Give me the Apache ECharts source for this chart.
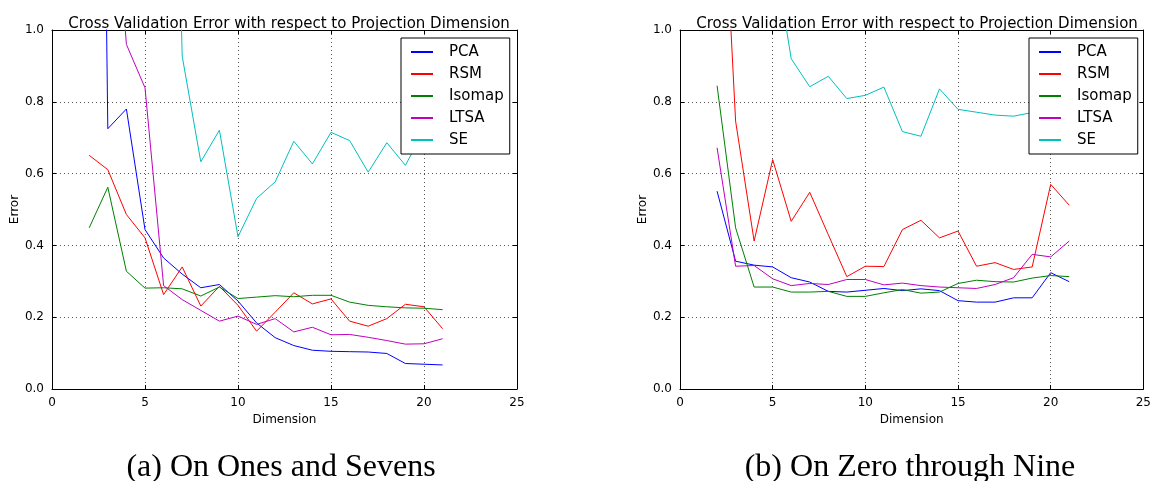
<!DOCTYPE html>
<html>
<head>
<meta charset="utf-8">
<script src="https://cdn.jsdelivr.net/npm/echarts@6/dist/echarts.min.js"></script>
<style>
	body { margin: 0; background: #fff; }
	#main { width: 1154px; height: 481px; }
</style>
</head>
<body>
<div id="main"></div>
<script>
// 维度
var dims = [2, 3, 4, 5, 6, 7, 8, 9, 10, 11, 12, 13, 14, 15, 16, 17, 18, 19, 20, 21];
var names = ['PCA', 'RSM', 'Isomap', 'LTSA', 'SE'];
var colors = ['#0000ff', '#ff0000', '#008000', '#bf00bf', '#00bfbf'];
var xTicks = [0, 5, 10, 15, 20, 25];
var yTicks = [0, 0.2, 0.4, 0.6, 0.8, 1.0];

// (a) Ones and Sevens
var pcaA = [5.0, 0.725, 0.78, 0.444, 0.365, 0.32, 0.282, 0.291, 0.245, 0.184, 0.143, 0.121, 0.108, 0.105, 0.104, 0.103, 0.099, 0.071, 0.069, 0.067];
var rsmA = [0.651, 0.611, 0.486, 0.421, 0.263, 0.340, 0.231, 0.286, 0.233, 0.161, 0.214, 0.268, 0.237, 0.251, 0.189, 0.175, 0.196, 0.236, 0.229, 0.168];
var isoA = [0.449, 0.562, 0.328, 0.281, 0.282, 0.279, 0.259, 0.284, 0.252, 0.256, 0.260, 0.257, 0.261, 0.261, 0.242, 0.233, 0.229, 0.226, 0.225, 0.221];
var ltsaA = [2.0, 1.63, 0.96, 0.839, 0.288, 0.249, 0.219, 0.189, 0.203, 0.180, 0.196, 0.159, 0.172, 0.151, 0.152, 0.144, 0.135, 0.125, 0.126, 0.140];
var seA = [2.5, 2.5, 2.5, 2.8, 3.0, 0.927, 0.633, 0.721, 0.424, 0.531, 0.577, 0.690, 0.627, 0.715, 0.692, 0.604, 0.686, 0.623, 0.72, 0.662];

// (b) Zero through Nine
var pcaB = [0.551, 0.356, 0.345, 0.340, 0.310, 0.298, 0.272, 0.270, 0.275, 0.280, 0.274, 0.279, 0.274, 0.246, 0.242, 0.242, 0.254, 0.254, 0.324, 0.299];
var rsmB = [1.76, 0.746, 0.412, 0.639, 0.467, 0.548, 0.430, 0.313, 0.342, 0.341, 0.444, 0.470, 0.421, 0.440, 0.342, 0.352, 0.333, 0.340, 0.570, 0.512];
var isoB = [0.845, 0.449, 0.284, 0.284, 0.270, 0.270, 0.272, 0.258, 0.258, 0.268, 0.277, 0.267, 0.270, 0.294, 0.303, 0.299, 0.298, 0.309, 0.316, 0.313];
var ltsaB = [0.672, 0.342, 0.344, 0.307, 0.288, 0.294, 0.291, 0.305, 0.305, 0.290, 0.295, 0.288, 0.284, 0.282, 0.280, 0.291, 0.310, 0.375, 0.368, 0.412];
var seB = [1.6, 1.5, 1.4, 1.24, 0.920, 0.842, 0.871, 0.809, 0.818, 0.841, 0.717, 0.704, 0.836, 0.779, 0.771, 0.763, 0.760, 0.77, 0.78, 0.80];

var setsA = [pcaA, rsmA, isoA, ltsaA, seA];
var setsB = [pcaB, rsmB, isoB, ltsaB, seB];

var titleText = 'Cross Validation Error with respect to Projection Dimension';
var font = 'DejaVu Sans';

function pairs(vals) {
	return dims.map(function (d, i) { return [d, vals[i]]; });
}

function makeXAxis(g, pos) {
	var main = pos === 'bottom';
	return {
		type: 'value', gridIndex: g, position: pos,
		min: xTicks[0], max: xTicks[xTicks.length - 1], interval: 5,
		name: main ? 'Dimension' : '', nameLocation: 'middle', nameGap: 22,
		nameTextStyle: { color: '#000', fontFamily: font, fontSize: 12 },
		axisLine: { show: true, onZero: false, lineStyle: { color: '#000', width: 1 } },
		axisTick: { show: true, inside: true, length: 4, lineStyle: { color: '#000' } },
		axisLabel: { show: main, color: '#000', fontFamily: font, fontSize: 12, margin: 8 },
		splitLine: { show: main, lineStyle: { color: '#555', type: [1, 3], width: 1 } }
	};
}

function makeYAxis(g, pos) {
	var main = pos === 'left';
	return {
		type: 'value', gridIndex: g, position: pos,
		min: yTicks[0], max: yTicks[yTicks.length - 1], interval: 0.2,
		name: main ? 'Error' : '', nameLocation: 'middle', nameGap: 28, nameRotate: 90,
		nameTextStyle: { color: '#000', fontFamily: font, fontSize: 12 },
		axisLine: { show: true, onZero: false, lineStyle: { color: '#000', width: 1 } },
		axisTick: { show: true, inside: true, length: 4, lineStyle: { color: '#000' } },
		axisLabel: {
			show: main, color: '#000', fontFamily: font, fontSize: 12, margin: 8,
			formatter: function (v) { return v.toFixed(1); }
		},
		splitLine: { show: main, lineStyle: { color: '#555', type: [1, 3], width: 1 } }
	};
}

function makeSeries(sets, g) {
	return sets.map(function (vals, i) {
		return {
			name: names[i], type: 'line', xAxisIndex: g * 2, yAxisIndex: g * 2,
			data: pairs(vals), showSymbol: false, symbol: 'none', clip: true,
			lineStyle: { color: colors[i], width: 1 }, itemStyle: { color: colors[i] },
			animation: false
		};
	});
}

function makeLegend(left) {
	return {
		data: names, orient: 'vertical', left: left, top: 38,
		backgroundColor: '#fff', borderColor: '#000', borderWidth: 1,
		padding: [6, 6, 6, 10], itemGap: 6, itemWidth: 22, itemHeight: 2, icon: 'rect',
		textStyle: { color: '#000', fontFamily: font, fontSize: 15, lineHeight: 16, padding: [0, 0, 0, 11] },
		selectedMode: false, z: 10
	};
}

var myChart = echarts.init(document.getElementById('main'));
var option = {
	backgroundColor: '#fff',
	animation: false,
	color: colors,
	title: [
		{ text: titleText, left: 284, top: 12, textAlign: 'center', textStyle: { color: '#000', fontFamily: font, fontSize: 15, fontWeight: 'normal' } },
		{ text: titleText, left: 912, top: 12, textAlign: 'center', textStyle: { color: '#000', fontFamily: font, fontSize: 15, fontWeight: 'normal' } },
		{ text: '(a) On Ones and Sevens', left: 276, top: 447, textAlign: 'center', textStyle: { color: '#000', fontFamily: 'Liberation Serif', fontSize: 32, fontWeight: 'normal' } },
		{ text: '(b) On Zero through Nine', left: 905, top: 447, textAlign: 'center', textStyle: { color: '#000', fontFamily: 'Liberation Serif', fontSize: 32, fontWeight: 'normal' } }
	],
	legend: [makeLegend(401), makeLegend(1029)],
	grid: [
		{ left: 52, top: 30, width: 465, height: 359 },
		{ left: 680, top: 30, width: 465, height: 359 }
	],
	xAxis: [makeXAxis(0, 'bottom'), makeXAxis(0, 'top'), makeXAxis(1, 'bottom'), makeXAxis(1, 'top')],
	yAxis: [makeYAxis(0, 'left'), makeYAxis(0, 'right'), makeYAxis(1, 'left'), makeYAxis(1, 'right')],
	series: makeSeries(setsA, 0).concat(makeSeries(setsB, 1))
};
myChart.setOption(option);
</script>
</body>
</html>
